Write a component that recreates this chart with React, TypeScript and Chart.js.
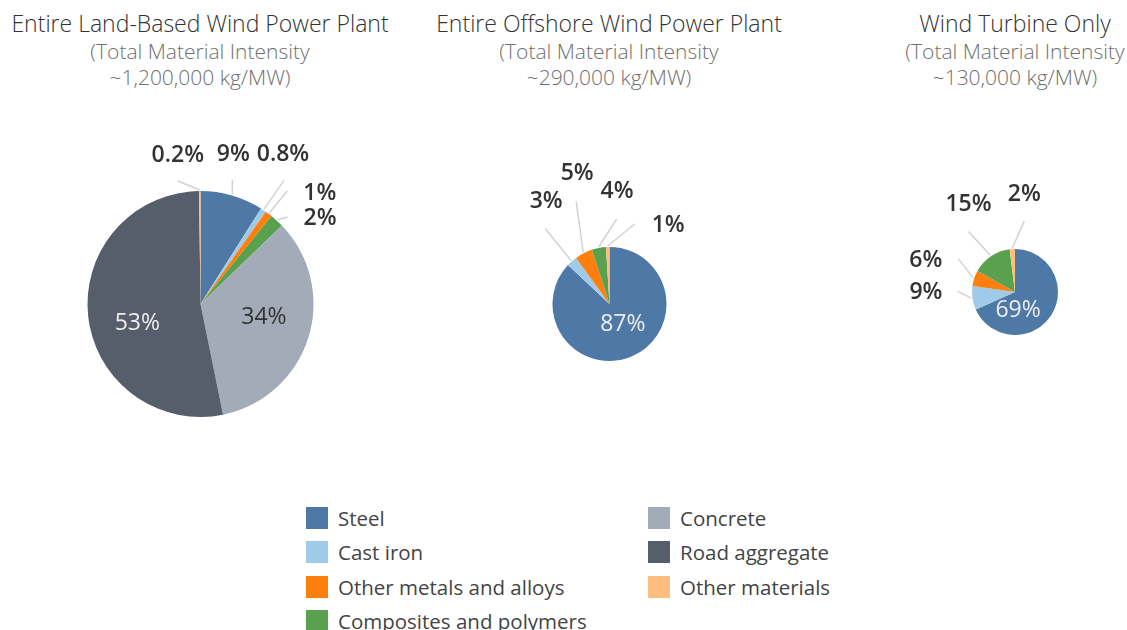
import React, { useEffect, useRef } from "react";
import { Chart, registerables } from "chart.js";

Chart.register(...registerables);

// ---------- data ----------
const categories = [
  "Steel",
  "Cast iron",
  "Other metals and alloys",
  "Composites and polymers",
  "Concrete",
  "Road aggregate",
  "Other materials",
];
const colors = ["#4e79a7", "#a0cbe8", "#ff7f0e", "#59a14f", "#a2abb7", "#575e6b", "#ffbe7d"];
const landValues = [9, 0.8, 1, 2, 34, 53, 0.2];
const offshoreValues = [87, 3, 5, 4, 0, 0, 1];
const turbineValues = [69, 9, 6, 15, 0, 0, 2];
const titles = ["Entire Land-Based Wind Power Plant", "Entire Offshore Wind Power Plant", "Wind Turbine Only"];
const subtitleLine1 = "(Total Material Intensity";
const intensities = ["~1,200,000 kg/MW)", "~290,000 kg/MW)", "~130,000 kg/MW)"];
const legendColumns = [
  [0, 1, 2, 3],
  [4, 5, 6],
];

// ---------- style / layout ----------
type LabelStyle =
  | { kind: "out"; ex: number; ey: number; tx: number; ty: number; align: CanvasTextAlign }
  | { kind: "in"; dx: number; dy: number; color: string }
  | null;

const landLabels: LabelStyle[] = [
  { kind: "out", ex: 0, ey: -15, tx: 1, ty: -25, align: "center" },
  { kind: "out", ex: 20, ey: -29, tx: -1, ty: -26, align: "center" },
  { kind: "out", ex: 18, ey: -22, tx: 16, ty: 2.5, align: "left" },
  { kind: "out", ex: 10, ey: -3, tx: 16, ty: 2, align: "left" },
  { kind: "in", dx: 9.5, dy: -3, color: "#333333" },
  { kind: "in", dx: -7, dy: 13, color: "#eeeeee" },
  { kind: "out", ex: -22, ey: -9, tx: 0, ty: -26, align: "center" },
];
const offshoreLabels: LabelStyle[] = [
  { kind: "in", dx: 2, dy: -6, color: "#eeeeee" },
  { kind: "out", ex: -26, ey: -32, tx: 1, ty: -27, align: "center" },
  { kind: "out", ex: -7, ey: -51, tx: 1, ty: -27.5, align: "center" },
  { kind: "out", ex: 18, ey: -28, tx: 0.5, ty: -27.5, align: "center" },
  null,
  null,
  { kind: "out", ex: 27, ey: -22, tx: 17, ty: 1, align: "left" },
];
const turbineLabels: LabelStyle[] = [
  { kind: "in", dx: -15, dy: 7, color: "#eeeeee" },
  { kind: "out", ex: -14, ey: -7, tx: -15, ty: 1, align: "right" },
  { kind: "out", ex: -15, ey: -19, tx: -16, ty: 2, align: "right" },
  { kind: "out", ex: -22, ey: -24, tx: 0, ty: -27, align: "center" },
  null,
  null,
  { kind: "out", ex: 12, ey: -27, tx: 0, ty: -26.5, align: "center" },
];

const LABEL_FONT_OUT = "600 23px 'Open Sans', sans-serif";
const LABEL_FONT_IN = "400 23px 'Open Sans', sans-serif";

const pieLabelPlugin = {
  id: "pieLabels",
  afterDatasetsDraw(chart: any) {
    const styles: LabelStyle[] = chart.options.plugins.pieLabels.styles;
    const ctx = chart.ctx as CanvasRenderingContext2D;
    const meta = chart.getDatasetMeta(0);
    const values = chart.data.datasets[0].data as number[];
    ctx.save();
    meta.data.forEach((arc: any, i: number) => {
      const st = styles[i];
      const v = values[i];
      if (!st || !v) return;
      const p = arc.getProps(["x", "y", "startAngle", "endAngle", "outerRadius"], true);
      const mid = (p.startAngle + p.endAngle) / 2;
      const text = `${v}%`;
      if (st.kind === "out") {
        const sx = p.x + Math.cos(mid) * (p.outerRadius + 1);
        const sy = p.y + Math.sin(mid) * (p.outerRadius + 1);
        const exx = sx + st.ex;
        const eyy = sy + st.ey;
        ctx.strokeStyle = "#d2d2d2";
        ctx.lineWidth = 1.5;
        ctx.beginPath();
        ctx.moveTo(sx, sy);
        ctx.lineTo(exx, eyy);
        ctx.stroke();
        ctx.font = LABEL_FONT_OUT;
        ctx.fillStyle = "#333333";
        ctx.textAlign = st.align;
        ctx.textBaseline = "middle";
        ctx.fillText(text, exx + st.tx, eyy + st.ty);
      } else {
        const c = arc.tooltipPosition(true);
        ctx.font = LABEL_FONT_IN;
        ctx.fillStyle = st.color;
        ctx.textAlign = "center";
        ctx.textBaseline = "middle";
        ctx.fillText(text, c.x + st.dx, c.y + st.dy);
      }
    });
    ctx.restore();
  },
};

type PieProps = {
  values: number[];
  labels: LabelStyle[];
  box: { left: number; top: number; width: number; height: number };
  cx: number;
  cy: number;
  r: number;
};

function PieChart({ values, labels, box, cx, cy, r }: PieProps) {
  const ref = useRef<HTMLCanvasElement | null>(null);
  useEffect(() => {
    if (!ref.current) return;
    const lx = cx - box.left;
    const ly = cy - box.top;
    const chart = new Chart(ref.current, {
      type: "pie",
      data: {
        labels: categories,
        datasets: [
          {
            data: values,
            backgroundColor: colors,
            borderWidth: 0,
          },
        ],
      },
      options: {
        responsive: false,
        animation: false,
        events: [],
        devicePixelRatio: 1,
        layout: {
          padding: {
            left: lx - r,
            right: box.width - (lx + r),
            top: ly - r,
            bottom: box.height - (ly + r),
          },
        },
        plugins: {
          legend: { display: false },
          tooltip: { enabled: false },
          title: { display: false },
          // @ts-ignore
          pieLabels: { styles: labels },
        },
      },
      plugins: [pieLabelPlugin],
    });
    return () => chart.destroy();
  }, []);
  return (
    <canvas
      ref={ref}
      width={box.width}
      height={box.height}
      style={{ position: "absolute", left: box.left, top: box.top, width: box.width, height: box.height }}
    />
  );
}

const TEXT_FONT = "'Open Sans', sans-serif";

function Header({ cx, title, intensity }: { cx: number; title: string; intensity: string }) {
  return (
    <div style={{ position: "absolute", left: cx - 250, width: 500, top: 8, textAlign: "center", fontFamily: TEXT_FONT }}>
      <div style={{ fontSize: 23, fontWeight: 300, lineHeight: "30px", color: "#333" }}>{title}</div>
      <div style={{ fontSize: 21, fontWeight: 300, lineHeight: "26px", color: "#6f6f6f" }}>{subtitleLine1}</div>
      <div style={{ fontSize: 21, fontWeight: 300, lineHeight: "26px", color: "#6f6f6f" }}>{intensity}</div>
    </div>
  );
}

export default function App() {
  const colX = [306, 648];
  const rowY = [507, 541, 576, 610];
  return (
    <div style={{ position: "fixed", left: 0, top: 0, width: 1127, height: 630, background: "#fff", overflow: "hidden" }}>
      <Header cx={200} title={titles[0]} intensity={intensities[0]} />
      <Header cx={609} title={titles[1]} intensity={intensities[1]} />
      <Header cx={1015} title={titles[2]} intensity={intensities[2]} />
      <PieChart values={landValues} labels={landLabels} box={{ left: 0, top: 100, width: 400, height: 360 }} cx={200.5} cy={304} r={113} />
      <PieChart values={offshoreValues} labels={offshoreLabels} box={{ left: 420, top: 100, width: 380, height: 360 }} cx={609.5} cy={304} r={57} />
      <PieChart values={turbineValues} labels={turbineLabels} box={{ left: 820, top: 100, width: 307, height: 360 }} cx={1015} cy={292} r={43} />
      {legendColumns.map((col, ci) =>
        col.map((idx, ri) => (
          <div key={`${ci}-${ri}`} style={{ position: "absolute", left: colX[ci], top: rowY[ri], height: 22, display: "flex", alignItems: "center" }}>
            <div style={{ width: 22, height: 22, background: colors[idx] }} />
            <div style={{ marginLeft: 10, fontFamily: TEXT_FONT, fontSize: 20.5, lineHeight: "22px", color: "#444", whiteSpace: "nowrap" }}>{categories[idx]}</div>
          </div>
        ))
      )}
    </div>
  );
}
